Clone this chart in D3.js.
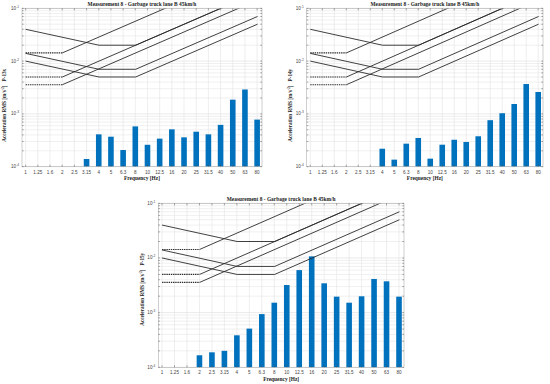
<!DOCTYPE html>
<html>
<head>
<meta charset="utf-8">
<script src="https://cdn.jsdelivr.net/npm/d3@7"></script>
<style>
  body { margin: 0; background: #fff; }
  svg { display: block; }
</style>
</head>
<body>
<script>
// third-octave band labels (x axis)
const freqLabels = ['1', '1.25', '1.6', '2', '2.5', '3.15', '4', '5', '6.3', '8', '10', '12.5', '16', '20', '25', '31.5', '40', '50', '63', '80'];
const freqValues = [1, 1.25, 1.6, 2, 2.5, 3.15, 4, 5, 6.3, 8, 10, 12.5, 16, 20, 25, 31.5, 40, 50, 63, 80];

// measured RMS acceleration per band (null = below axis)
const p13x = [null, null, null, null, null, 1.4e-4, 4.1e-4, 3.7e-4, 2.07e-4, 5.8e-4, 2.6e-4, 3.4e-4, 5.1e-4, 3.6e-4, 4.6e-4, 4.1e-4, 6.2e-4, 1.86e-3, 2.9e-3, 7.8e-4];
const p14y = [null, null, null, null, null, null, 2.19e-4, 1.36e-4, 2.73e-4, 3.5e-4, 1.42e-4, 2.61e-4, 3.24e-4, 2.94e-4, 3.77e-4, 7.6e-4, 1.03e-3, 1.54e-3, 3.68e-3, 2.6e-3];
const p15y = [null, null, null, 1.66e-4, 1.88e-4, 2.0e-4, 3.85e-4, 5.1e-4, 9.4e-4, 1.52e-3, 3.2e-3, 6.0e-3, 1.07e-2, 3.44e-3, 1.96e-3, 1.52e-3, 1.99e-3, 4.13e-3, 3.74e-3, 1.96e-3];

// limit curves [frequency, acceleration]; flat parts of x-y curves are dashed
const zCurve1 = [[1, 0.01], [4, 0.005], [8, 0.005], [80, 0.05]];
const zCurve14 = [[1, 0.014], [4, 0.007], [8, 0.007], [80, 0.07]];
const zCurve4 = [[1, 0.04], [4, 0.02], [8, 0.02], [80, 0.2]];
const xyFlat1 = [[1, 0.00357], [2, 0.00357]];
const xyRise1 = [[2, 0.00357], [80, 0.143]];
const xyFlat14 = [[1, 0.005], [2, 0.005]];
const xyRise14 = [[2, 0.005], [80, 0.2]];
const xyFlat4 = [[1, 0.0143], [2, 0.0143]];
const xyRise4 = [[2, 0.0143], [80, 0.572]];

const yTicks = [1e-4, 1e-3, 1e-2, 1e-1];
const yTickLabels = ['-4', '-3', '-2', '-1'];

const title = 'Measurement 8 - Garbage truck lane B 45km/h';

const svg = d3.select('body').append('svg')
    .attr('width', 550)
    .attr('height', 384);

let clipId = 0;

function drawPanel(cfg) {
    const g = svg.append('g').attr('transform', `translate(${cfg.left},${cfg.top})`);
    const w = cfg.width, h = cfg.height;

    const x = d3.scaleLinear().domain([-0.3, 19.4]).range([0, w]);
    // log scale on frequency aligned to band centres (band i = 10^(i/10))
    const xf = d3.scaleLog().domain([1, Math.pow(10, 1.9)]).range([x(0), x(19)]);
    const y = d3.scaleLog().domain([1e-4, 1e-1]).range([h, 0]);

    // grid
    const minor = [];
    for (let e = -4; e < -1; e++) {
        for (let m = 2; m <= 9; m++) minor.push(m * Math.pow(10, e));
    }
    g.selectAll('.minor').data(minor).enter().append('line')
        .attr('x1', 0).attr('x2', w)
        .attr('y1', d => y(d)).attr('y2', d => y(d))
        .attr('stroke', '#e6e6e6').attr('stroke-width', 0.6);
    g.selectAll('.major').data(yTicks).enter().append('line')
        .attr('x1', 0).attr('x2', w)
        .attr('y1', d => y(d)).attr('y2', d => y(d))
        .attr('stroke', '#dcdcdc').attr('stroke-width', 0.6);
    g.selectAll('.vgrid').data(freqLabels).enter().append('line')
        .attr('x1', (d, i) => x(i)).attr('x2', (d, i) => x(i))
        .attr('y1', 0).attr('y2', h)
        .attr('stroke', '#e2e2e2').attr('stroke-width', 0.6);

    // bars
    const barW = 5.6;
    const bars = cfg.values.map((v, i) => ({ i, v })).filter(d => d.v !== null);
    g.selectAll('.bar').data(bars).enter().append('rect')
        .attr('x', d => x(d.i) - barW / 2)
        .attr('y', d => y(d.v))
        .attr('width', barW)
        .attr('height', d => h - y(d.v))
        .attr('fill', '#0072BD');

    // curves, clipped to plot area
    const cid = 'clip' + (clipId++);
    g.append('clipPath').attr('id', cid).append('rect')
        .attr('x', 0).attr('y', 0).attr('width', w).attr('height', h);
    const lg = g.append('g').attr('clip-path', `url(#${cid})`);
    const line = d3.line().x(d => xf(d[0])).y(d => y(d[1]));
    [zCurve1, zCurve14, zCurve4, xyRise1, xyRise14, xyRise4].forEach(c => {
        lg.append('path').attr('d', line(c))
            .attr('fill', 'none').attr('stroke', '#2b2b2b').attr('stroke-width', 0.9);
    });
    [xyFlat1, xyFlat14, xyFlat4].forEach(c => {
        lg.append('path').attr('d', line(c))
            .attr('fill', 'none').attr('stroke', '#2b2b2b').attr('stroke-width', 1.1)
            .attr('stroke-dasharray', '1.4,0.8');
    });

    // box and ticks
    g.append('rect').attr('width', w).attr('height', h)
        .attr('fill', 'none').attr('stroke', '#b0b0b0').attr('stroke-width', 0.6);
    freqLabels.forEach((lab, i) => {
        g.append('line').attr('x1', x(i)).attr('x2', x(i)).attr('y1', h).attr('y2', h - 2)
            .attr('stroke', '#555').attr('stroke-width', 0.5);
        g.append('line').attr('x1', x(i)).attr('x2', x(i)).attr('y1', 0).attr('y2', 2)
            .attr('stroke', '#555').attr('stroke-width', 0.5);
    });
    minor.concat(yTicks).forEach(v => {
        g.append('line').attr('x1', 0).attr('x2', 1.6).attr('y1', y(v)).attr('y2', y(v))
            .attr('stroke', '#555').attr('stroke-width', 0.5);
        g.append('line').attr('x1', w).attr('x2', w - 1.6).attr('y1', y(v)).attr('y2', y(v))
            .attr('stroke', '#555').attr('stroke-width', 0.5);
    });

    // tick labels
    g.selectAll('.xl').data(freqLabels).enter().append('text')
        .attr('x', (d, i) => x(i)).attr('y', h + 7)
        .attr('text-anchor', 'middle')
        .attr('font-family', 'Liberation Sans, Arial, sans-serif')
        .attr('font-size', 4.6).attr('fill', '#444')
        .text(d => d);
    yTicks.forEach((v, k) => {
        const t = g.append('text').attr('x', -3).attr('y', y(v) + 1.5)
            .attr('text-anchor', 'end')
            .attr('font-family', 'Liberation Sans, Arial, sans-serif')
            .attr('font-size', 4.6).attr('fill', '#444');
        t.append('tspan').text('10');
        t.append('tspan').attr('font-size', 3.2).attr('dy', -2).text(yTickLabels[k]);
    });

    // titles
    g.append('text').attr('x', w / 2).attr('y', -2)
        .attr('text-anchor', 'middle')
        .attr('font-family', 'Liberation Serif, Times New Roman, serif')
        .attr('font-weight', 'bold').attr('font-size', 5.4).attr('fill', '#222')
        .text(title);
    g.append('text').attr('x', w / 2).attr('y', h + 13.5)
        .attr('text-anchor', 'middle')
        .attr('font-family', 'Liberation Serif, Times New Roman, serif')
        .attr('font-weight', 'bold').attr('font-size', 5.4).attr('fill', '#222')
        .text('Frequency [Hz]');
    const yl = g.append('text')
        .attr('transform', `translate(${cfg.ylabelX},${cfg.ylabelY}) rotate(-90)`)
        .attr('text-anchor', 'middle')
        .attr('font-family', 'Liberation Serif, Times New Roman, serif')
        .attr('font-weight', 'bold').attr('font-size', 5.2).attr('fill', '#222');
    yl.append('tspan').text('Acceleration RMS [m/s');
    yl.append('tspan').attr('font-size', 3.6).attr('dy', -2).text('-2');
    yl.append('tspan').attr('dy', 2).text(']');
    yl.append('tspan').attr('dx', 4).text(cfg.point);
}

drawPanel({ left: 22, top: 8.3, width: 240, height: 158.4, values: p13x, point: 'P-13x', ylabelX: -16, ylabelY: 97 });
drawPanel({ left: 306.7, top: 8.3, width: 236.3, height: 158.4, values: p14y, point: 'P-14y', ylabelX: -15, ylabelY: 97 });
drawPanel({ left: 158.3, top: 203.3, width: 245.7, height: 164, values: p15y, point: 'P-15y', ylabelX: -14, ylabelY: 86 });
</script>
</body>
</html>
